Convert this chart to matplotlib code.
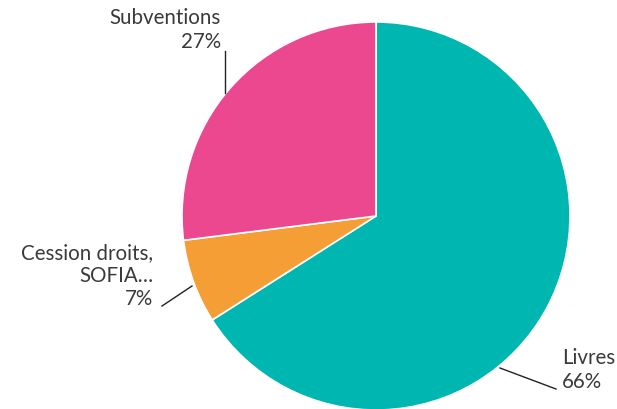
import matplotlib.pyplot as plt

labels = ["Livres", "Cession droits,\nSOFIA\u2026", "Subventions"]
shares = [66, 7, 27]
colors = ["#00B6B0", "#F59E35", "#EC4890"]

W, H = 617, 409
fig = plt.figure(figsize=(W / 100, H / 100), dpi=100)
ax = fig.add_axes([0, 0, 1, 1])

cx, cy, r = 376, H - 216, 194
ax.pie(shares, colors=colors, startangle=90, counterclock=False,
       center=(cx, cy), radius=r, frame=True,
       wedgeprops=dict(edgecolor="white", linewidth=1.2))
ax.set_xlim(0, W)
ax.set_ylim(0, H)
ax.set_aspect("equal")
ax.axis("off")

txt = dict(fontsize=14.8, color="#3a3a3a", family="Lato", linespacing=1.2)
# label placements (pixel coords from top-left), leader lines
place = [
    dict(x=562, y=370, ha="left", line=((500, 368), (556, 389))),
    dict(x=153, y=276, ha="right", line=((192, 286), (162, 306))),
    dict(x=221, y=30, ha="right", line=((225, 93), (225, 51))),
]
for lab, val, p in zip(labels, shares, place):
    ax.text(p["x"], H - p["y"], f"{lab}\n{val}%", ha=p["ha"], va="center",
            multialignment=p["ha"], **txt)
    (x0, y0), (x1, y1) = p["line"]
    ax.plot([x0, x1], [H - y0, H - y1], color="#222222", linewidth=1)

fig.savefig("out.png", dpi=100)
